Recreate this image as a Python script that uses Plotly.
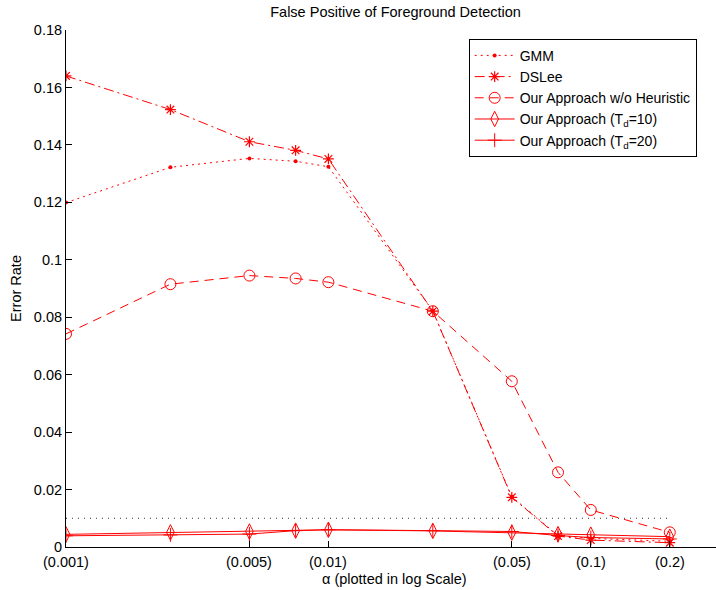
import numpy as np
import plotly.graph_objects as go

# alpha values (learning rate), plotted on a log axis
alpha = [0.001, 0.0025, 0.005, 0.0075, 0.01, 0.025, 0.05, 0.075, 0.1, 0.2]

# false positive error rates for each method
gmm = [0.1199, 0.1322, 0.1353, 0.1343, 0.1324, 0.0822, 0.0175, 0.0040, 0.0030, 0.0020]
dslee = [0.1640, 0.1523, 0.1411, 0.1381, 0.1351, 0.0821, 0.0173, 0.0038, 0.0024, 0.0015]
ours_no_heuristic = [0.0742, 0.0915, 0.0945, 0.0935, 0.0922, 0.0821, 0.0577, 0.0260, 0.0129, 0.0051]
ours_td10 = [0.0044, 0.0051, 0.0054, 0.0057, 0.0060, 0.0056, 0.0050, 0.0045, 0.0043, 0.0036]
ours_td20 = [0.0039, 0.0042, 0.0045, 0.0057, 0.0060, 0.0057, 0.0054, 0.0040, 0.0033, 0.0028]

# reference level line
ref_x = [0.001, 0.2]
ref_y = [0.01, 0.01]

x_tickvals = [0.001, 0.005, 0.01, 0.05, 0.1, 0.2]
x_ticktext = ["(0.001)", "(0.005)", "(0.01)", "(0.05)", "(0.1)", "(0.2)"]
y_tickvals = [0, 0.02, 0.04, 0.06, 0.08, 0.1, 0.12, 0.14, 0.16, 0.18]
y_ticktext = ["0", "0.02", "0.04", "0.06", "0.08", "0.1", "0.12", "0.14", "0.16", "0.18"]

RED = "#ff0000"
FONT = "Liberation Sans, Arial, Helvetica, sans-serif"
FS = 14.5

fig = go.Figure()

fig.add_trace(go.Scatter(
    x=ref_x, y=ref_y, mode="lines", showlegend=False, hoverinfo="skip",
    line=dict(color="#333333", width=1, dash="1px,5px"),
))

fig.add_trace(go.Scatter(
    x=alpha, y=gmm, name="GMM", mode="lines+markers",
    line=dict(color=RED, width=1, dash="2px,4px"),
    marker=dict(symbol="circle", size=4, color=RED),
))
fig.add_trace(go.Scatter(
    x=alpha, y=dslee, name="DSLee", mode="lines+markers",
    line=dict(color=RED, width=1, dash="10px,4px,2px,4px"),
    marker=dict(symbol="asterisk-open", size=9, color=RED, line=dict(color=RED, width=1.2)),
))
fig.add_trace(go.Scatter(
    x=alpha, y=ours_no_heuristic, name="Our Approach w/o Heuristic", mode="lines+markers",
    line=dict(color=RED, width=1, dash="9px,6px"),
    marker=dict(symbol="circle-open", size=11, color=RED, line=dict(color=RED, width=1)),
))
fig.add_trace(go.Scatter(
    x=alpha, y=ours_td10, name="Our Approach (T<sub>d</sub>=10)", mode="lines+markers",
    line=dict(color=RED, width=1),
    marker=dict(symbol="diamond-tall-open", size=11, color=RED, line=dict(color=RED, width=1)),
))
fig.add_trace(go.Scatter(
    x=alpha, y=ours_td20, name="Our Approach (T<sub>d</sub>=20)", mode="lines+markers",
    line=dict(color=RED, width=1),
    marker=dict(symbol="cross-thin-open", size=10, color=RED, line=dict(color=RED, width=1)),
))

# x tick labels placed under each tick
for v, t in zip(x_tickvals, x_ticktext):
    fig.add_annotation(
        x=np.log10(v), xref="x", y=0, yref="paper",
        xanchor="center", yanchor="middle", yshift=-14.5,
        text=t, showarrow=False, font=dict(family=FONT, size=FS, color="black"),
    )

# x axis title
fig.add_annotation(
    x=0.506, xref="paper", y=0, yref="paper", yanchor="middle", yshift=-31.5,
    text="α (plotted in log Scale)", showarrow=False,
    font=dict(family=FONT, size=FS, color="black"),
)

fig.update_layout(
    width=716, height=590,
    margin=dict(l=66, r=0, t=29.5, b=43),
    paper_bgcolor="white", plot_bgcolor="white",
    font=dict(family=FONT, size=FS, color="black"),
    title=dict(text="False Positive of Foreground Detection", x=0.507, xref="paper",
               xanchor="center", y=0.979, yanchor="middle",
               font=dict(family=FONT, size=FS, color="black")),
    legend=dict(x=0.6195, y=0.983, xanchor="left", yanchor="top",
                bordercolor="black", borderwidth=1, bgcolor="white",
                font=dict(family=FONT, size=14, color="black"),
                tracegroupgap=0, itemwidth=40),
    showlegend=True,
)

fig.update_xaxes(
    type="log", range=[np.log10(0.001), np.log10(0.3)],
    tickvals=x_tickvals, showticklabels=False,
    ticks="inside", ticklen=6, tickcolor="black", tickwidth=1,
    showline=True, linecolor="black", linewidth=1, mirror=False,
    showgrid=False, zeroline=False,
)
fig.update_yaxes(
    range=[0, 0.18], tickvals=y_tickvals, ticktext=y_ticktext,
    ticks="inside", ticklen=6, tickcolor="black", tickwidth=1,
    showline=True, linecolor="black", linewidth=1, mirror=False,
    showgrid=False, zeroline=False,
    title=dict(text="Error Rate", standoff=8,
               font=dict(family=FONT, size=FS, color="black")),
)

fig.write_html("out.html")
